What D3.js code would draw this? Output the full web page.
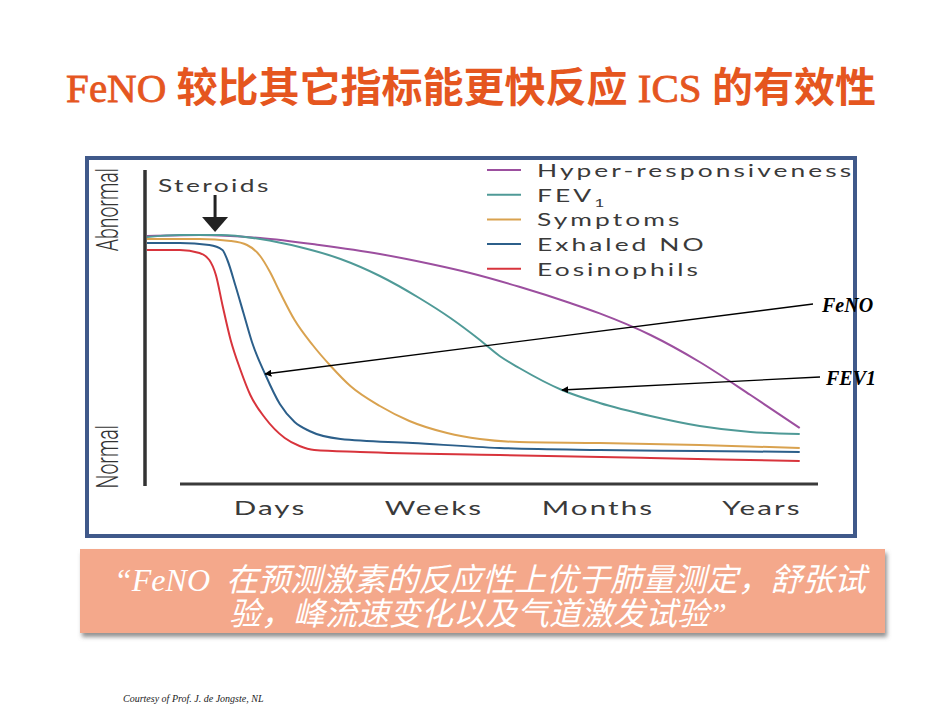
<!DOCTYPE html>
<html>
<head>
<meta charset="utf-8">
<script src="https://cdn.jsdelivr.net/npm/d3@7"></script>
<style>
  body { margin: 0; background: #fff; }
  svg { display: block; }
  text { white-space: pre; }
</style>
</head>
<body>
<svg id="slide" width="950" height="713"></svg>
<script>
// time runs 0..42 (Days = 10, Weeks = 20, Months = 30, Years = 40), level 0 = normal, ~120 = abnormal
const seriesNames = ['Hyper-responsiveness', 'FEV', 'Symptoms', 'Exhaled NO', 'Eosinophils'];
const seriesColors = ['#9c4f9f', '#4f9a97', '#d9a24f', '#2c5f8a', '#d8343c'];

const hyperValues = [[2.5, 117], [5.7, 117.5], [9.4, 116], [13, 112.5], [16.7, 108], [19.8, 103],
  [22.2, 98.5], [25.2, 91.6], [28.3, 83.5], [30.1, 78.3], [33.2, 67.5], [36.2, 54], [39.3, 37.5], [42.3, 21]];
const fevValues = [[2.5, 116.5], [4.5, 117.5], [7, 117.5], [9.4, 115.5], [11.8, 111.5], [14.3, 105.5],
  [16.7, 97], [19.1, 86], [21, 76], [22.8, 65], [24, 57], [25.2, 51], [27.8, 40], [30.1, 33.5],
  [33.2, 27], [36.2, 22], [39.3, 19], [42.3, 18]];
const symptomValues = [[2.5, 115.5], [5.7, 115.5], [7.6, 114.5], [8.6, 112.5], [9.4, 107], [10, 99],
  [10.6, 89], [11.5, 75], [12.6, 62.5], [13.7, 52], [14.9, 42], [16.7, 32], [18.5, 24.5], [20.8, 18.5],
  [22.8, 15.5], [25.2, 14], [30.1, 13.5], [36.2, 12.5], [42.3, 11]];
const noValues = [[2.5, 113.5], [4.5, 113.5], [6.3, 112.5], [7.1, 110], [7.4, 105], [7.9, 92],
  [8.4, 78], [8.9, 64], [9.7, 48], [10.6, 33], [11.5, 24], [12.4, 19.5], [14.3, 15.5], [18.7, 13.5],
  [24, 11], [30.1, 10], [36.2, 9.5], [42.3, 9]];
const eosValues = [[2.5, 110], [4.5, 110], [5.7, 108.5], [6.3, 105], [6.7, 97.5], [7.1, 82.5],
  [7.6, 65], [8.2, 50], [8.8, 37.5], [9.7, 26], [10.9, 16], [11.8, 12], [12.7, 10], [15.5, 9],
  [24, 7.5], [33.2, 6], [42.3, 4.5]];
const seriesValues = [hyperValues, fevValues, symptomValues, noValues, eosValues];

const tickLabels = ['Days', 'Weeks', 'Months', 'Years'];
const tickValues = [10, 20, 30, 40];

const steroidTime = 6.65;
const fenoPoint = [9.7, 48];
const fev1Point = [27.8, 40];

// title pieces: [text, isLatin]
const titleParts = [['FeNO ', true], ['较比其它指标能更快反应', false], [' ICS ', true], ['的有效性', false]];
const quoteLines = ['\u201cFeNO  在预测激素的反应性上优于肺量测定，舒张试', '验，峰流速变化以及气道激发试验\u201d'];
const creditText = 'Courtesy of Prof. J. de Jongste, NL';

const svg = d3.select('#slide');
const stretch = 1.6; // the original figure is widened
const labelFont = 'Lato, "Open Sans", sans-serif';

const x = d3.scaleLinear().domain([0, 40]).range([106, 762]);
const y = d3.scaleLinear().domain([0, 120]).range([470, 230]);

const defs = svg.append('defs');
defs.append('marker')
  .attr('id', 'tip')
  .attr('viewBox', '0 0 10 10')
  .attr('refX', 9).attr('refY', 5)
  .attr('markerWidth', 7).attr('markerHeight', 7)
  .attr('markerUnits', 'userSpaceOnUse')
  .attr('orient', 'auto')
  .append('path')
  .attr('d', 'M0,0L10,5L0,10z')
  .attr('fill', '#000');
const shadow = defs.append('filter').attr('id', 'shade')
  .attr('x', '-5%').attr('y', '-10%').attr('width', '110%').attr('height', '130%');
shadow.append('feDropShadow')
  .attr('dx', 2).attr('dy', 4).attr('stdDeviation', 2)
  .attr('flood-color', '#777').attr('flood-opacity', 0.8);

// title
svg.append('text')
  .attr('x', 471).attr('y', 102)
  .attr('text-anchor', 'middle')
  .attr('font-size', 41)
  .attr('fill', '#e5561f')
  .selectAll('tspan')
  .data(titleParts)
  .enter()
  .append('tspan')
  .attr('font-family', (d) => (d[1] ? '"Liberation Serif", serif' : '"Noto Sans CJK SC", sans-serif'))
  .attr('font-weight', (d) => (d[1] ? 'normal' : 'bold'))
  .attr('stroke', (d) => (d[1] ? '#e5561f' : 'none'))
  .attr('stroke-width', 0.8)
  .text((d) => d[0]);

// figure frame
svg.append('rect')
  .attr('x', 87).attr('y', 158).attr('width', 768).attr('height', 378)
  .attr('fill', '#fff').attr('stroke', '#40598a').attr('stroke-width', 4);

// axes
svg.append('line')
  .attr('x1', 145).attr('x2', 145).attr('y1', 170).attr('y2', 486)
  .attr('stroke', '#333').attr('stroke-width', 3.5);
svg.append('line')
  .attr('x1', 180).attr('x2', 818).attr('y1', 484).attr('y2', 484)
  .attr('stroke', '#3a3a3a').attr('stroke-width', 3);

const yLabels = [{ text: 'Abnormal', pos: 168 }, { text: 'Normal', pos: 425 }];
svg.selectAll('.ylab')
  .data(yLabels)
  .enter()
  .append('text')
  .attr('class', 'ylab')
  .attr('transform', (d) => `translate(118,${d.pos}) rotate(-90) scale(1,${stretch})`)
  .attr('text-anchor', 'end')
  .attr('font-family', 'Roboto, sans-serif')
  .attr('font-weight', 300)
  .attr('font-size', 19.5)
  .attr('fill', '#333')
  .text((d) => d.text);

svg.selectAll('.xlab')
  .data(tickLabels)
  .enter()
  .append('text')
  .attr('class', 'xlab')
  .attr('transform', (d, i) => `translate(${x(tickValues[i])},515) scale(${stretch},1)`)
  .attr('text-anchor', 'middle')
  .attr('font-family', labelFont)
  .attr('font-size', 18.5)
  .attr('letter-spacing', 1.3)
  .attr('fill', '#3a3a3a')
  .text((d) => d);

// curves
const line = d3.line()
  .x((d) => x(d[0]))
  .y((d) => y(d[1]))
  .curve(d3.curveMonotoneX);

svg.selectAll('.curve')
  .data(seriesValues)
  .enter()
  .append('path')
  .attr('class', 'curve')
  .attr('d', line)
  .attr('fill', 'none')
  .attr('stroke', (d, i) => seriesColors[i])
  .attr('stroke-width', 2);

// steroids marker
svg.append('text')
  .attr('transform', `translate(158,192) scale(${stretch},1)`)
  .attr('font-family', labelFont)
  .attr('font-size', 16.5)
  .attr('letter-spacing', 1.5)
  .attr('fill', '#3a3a3a')
  .text('Steroids');
const sx = x(steroidTime);
svg.append('line')
  .attr('x1', sx).attr('x2', sx).attr('y1', 195).attr('y2', 219)
  .attr('stroke', '#222').attr('stroke-width', 3);
svg.append('path')
  .attr('d', `M${sx - 13},217L${sx + 13},217L${sx},232Z`)
  .attr('fill', '#222');

// legend
const legend = svg.selectAll('.legend')
  .data(seriesNames)
  .enter()
  .append('g')
  .attr('class', 'legend')
  .attr('transform', (d, i) => `translate(487,${170 + i * 24.7})`);
legend.append('line')
  .attr('x1', 0).attr('x2', 34)
  .attr('stroke', (d, i) => seriesColors[i])
  .attr('stroke-width', 2);
const legendText = legend.append('text')
  .attr('transform', `translate(50,7) scale(${stretch},1)`)
  .attr('font-family', labelFont)
  .attr('font-size', 16.5)
  .attr('letter-spacing', 1.9)
  .attr('fill', '#3a3a3a')
  .text((d) => d);
legendText.filter((d) => d === 'FEV')
  .append('tspan')
  .attr('dy', 5)
  .attr('font-size', 11)
  .text('1');

// callouts
const callouts = [
  { text: 'FeNO', from: [813, 304], to: fenoPoint, tx: 822, ty: 312 },
  { text: 'FEV1', from: [820, 377], to: fev1Point, tx: 826, ty: 385 }
];
svg.selectAll('.callout-line')
  .data(callouts)
  .enter()
  .append('line')
  .attr('class', 'callout-line')
  .attr('x1', (d) => d.from[0]).attr('y1', (d) => d.from[1])
  .attr('x2', (d) => x(d.to[0])).attr('y2', (d) => y(d.to[1]))
  .attr('stroke', '#000').attr('stroke-width', 1.3)
  .attr('marker-end', 'url(#tip)');
svg.selectAll('.callout-text')
  .data(callouts)
  .enter()
  .append('text')
  .attr('class', 'callout-text')
  .attr('x', (d) => d.tx).attr('y', (d) => d.ty)
  .attr('font-family', '"Liberation Serif", serif')
  .attr('font-style', 'italic')
  .attr('font-weight', 'bold')
  .attr('font-size', 20)
  .attr('fill', '#000')
  .text((d) => d.text);

// quote box
svg.append('rect')
  .attr('x', 80).attr('y', 549).attr('width', 805).attr('height', 84)
  .attr('fill', '#f4a88b')
  .attr('filter', 'url(#shade)');
svg.append('text')
  .attr('text-anchor', 'middle')
  .attr('font-family', '"Liberation Serif", "Noto Sans CJK SC", serif')
  .attr('font-style', 'italic')
  .attr('font-size', 32)
  .attr('fill', '#fff')
  .selectAll('tspan')
  .data(quoteLines)
  .enter()
  .append('tspan')
  .attr('x', (d, i) => (i === 0 ? 490 : 478))
  .attr('y', (d, i) => 591 + i * 34)
  .text((d) => d);

svg.append('text')
  .attr('x', 123).attr('y', 702)
  .attr('font-family', '"Liberation Serif", serif')
  .attr('font-style', 'italic')
  .attr('font-size', 10)
  .attr('fill', '#222')
  .text(creditText);
</script>
</body>
</html>
